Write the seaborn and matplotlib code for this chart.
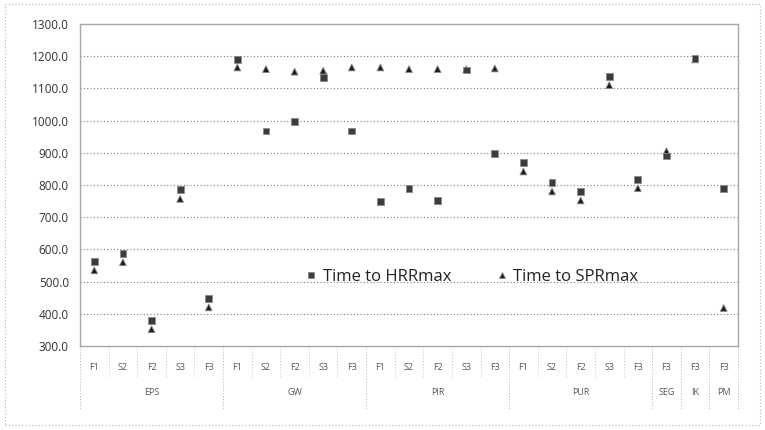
import pandas as pd
import matplotlib
matplotlib.use('Agg')
import matplotlib.pyplot as plt
import seaborn as sns
from matplotlib.patches import Rectangle

# 資料
groups = ['EPS', 'GW', 'PIR', 'PUR', 'SEG', 'IK', 'PM']
sub_labels = [['F1', 'S2', 'F2', 'S3', 'F3'],
              ['F1', 'S2', 'F2', 'S3', 'F3'],
              ['F1', 'S2', 'F2', 'S3', 'F3'],
              ['F1', 'S2', 'F2', 'S3', 'F3'],
              ['F3'], ['F3'], ['F3']]
hrr_max = [563, 588, 380, 787, 447,
           1190, 968, 997, 1135, 968,
           750, 790, 752, 1157, 897,
           870, 808, 780, 1137, 818,
           890, 1192, 790]
spr_max = [535, 560, 352, 757, 420,
           1165, 1160, 1152, 1155, 1165,
           1165, 1160, 1160, 1160, 1162,
           842, 780, 752, 1110, 790,
           905, 1190, 418]

cats = []
ticks = []
for g, subs in zip(groups, sub_labels):
    for s in subs:
        cats.append(g + ' ' + s)
        ticks.append(s)

df = pd.concat([
    pd.DataFrame({'cat': cats, 'value': spr_max, 'series': 'Time to SPRmax'}),
    pd.DataFrame({'cat': cats, 'value': hrr_max, 'series': 'Time to HRRmax'}),
], ignore_index=True)
df['pos'] = df['cat'].map({c: i for i, c in enumerate(cats)})

sns.set_style('white')
plt.rcParams['font.family'] = ['Open Sans', 'DejaVu Sans']

fig = plt.figure(figsize=(7.65, 4.3), dpi=100)
ax = fig.add_axes([80 / 765, 1 - 346 / 430, 658 / 765, 322 / 430])

sns.scatterplot(
    data=df, x='pos', y='value', hue='series', style='series',
    hue_order=['Time to HRRmax', 'Time to SPRmax'],
    style_order=['Time to HRRmax', 'Time to SPRmax'],
    palette={'Time to HRRmax': '#3c3c3c', 'Time to SPRmax': '#1c1c1c'},
    markers={'Time to HRRmax': 's', 'Time to SPRmax': '^'},
    s=24, edgecolor='#8a8a8a', linewidth=0.6, ax=ax, zorder=3
)

ax.set_xlim(-0.5, len(cats) - 0.5)
ax.set_ylim(300, 1300)
ax.set_yticks(range(300, 1301, 100))
ax.set_yticklabels([f'{v:.1f}' for v in range(300, 1301, 100)], fontsize=8.5, color='#333333')
ax.set_xticks(range(len(cats)))
ax.set_xticklabels(ticks, fontsize=6.5, color='#555555')
ax.tick_params(axis='x', length=0, pad=12)
ax.tick_params(axis='y', length=0, pad=8)
ax.set_xlabel('')
ax.set_ylabel('')

# 格線
for v in range(400, 1300, 100):
    ax.axhline(v, color='#7c7c7c', lw=0.8, ls=(0, (1, 2)), zorder=1)
for sp in ax.spines.values():
    sp.set_color('#a8a8a8')
    sp.set_linewidth(1.0)

# 分組標籤與分隔線
trans = ax.get_xaxis_transform()
pos = 0
bounds = [-0.5]
for g, subs in zip(groups, sub_labels):
    n = len(subs)
    ax.text(pos + (n - 1) / 2, -0.145, g, transform=trans, ha='center', va='center',
            fontsize=6.5, color='#555555')
    pos += n
    bounds.append(pos - 0.5)
for i in range(len(cats) + 1):
    b = i - 0.5
    if b in bounds:
        ax.plot([b, b], [0, -0.2], transform=trans, color='#b0b0b0', lw=0.7,
                ls=(0, (1, 2)), clip_on=False)
    else:
        ax.plot([b, b], [0, -0.095], transform=trans, color='#c4c4c4', lw=0.7,
                ls=(0, (1, 2)), clip_on=False)

# 圖例
leg = ax.legend(loc='center', bbox_to_anchor=(0.595, 0.214), ncol=2, frameon=False,
                fontsize=12, handlelength=0.8, handletextpad=0.3, columnspacing=2.6,
                markerscale=0.75, title=None)
for t in leg.get_texts():
    t.set_color('#222222')

# 外框
fig.patches.append(Rectangle((5 / 765, 5 / 430), 755 / 765, 421 / 430,
                             transform=fig.transFigure, fill=False,
                             edgecolor='#b8b8b8', lw=0.8, ls=(0, (1, 2))))

fig.savefig('out.png', dpi=100)
